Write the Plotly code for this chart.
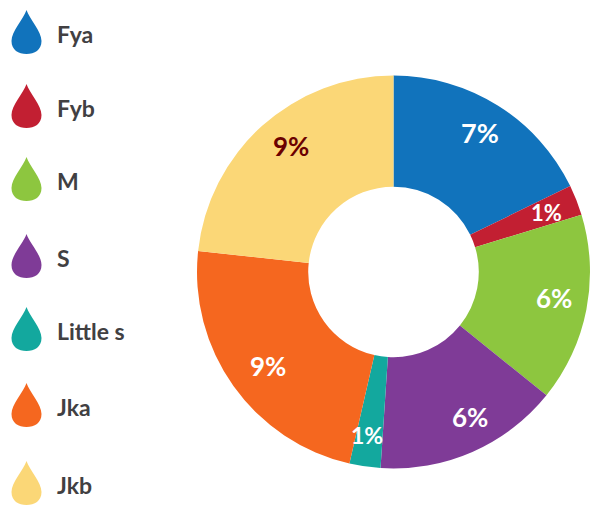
import math
import plotly.graph_objects as go

labels = ["Fya", "Fyb", "M", "S", "Little s", "Jka", "Jkb"]
values = [17.8, 2.5, 15.5, 15.25, 2.55, 23.1, 23.3]
texts = ["7%", "1%", "6%", "6%", "1%", "9%", "9%"]
colors = ["#1173BC", "#C21F32", "#8DC63F", "#7F3B97", "#13A89E", "#F5671F", "#FBD777"]
text_colors = ["#FFFFFF", "#FFFFFF", "#FFFFFF", "#FFFFFF", "#FFFFFF", "#FFFFFF", "#6B0000"]
text_sizes = [27, 22, 26, 26, 23, 26, 26]
FONT = "Lato"
W, H = 591, 507
CX, CY, R = 393.5, 272, 196.5
LABEL_R = 164
nudge_x = [-1, 0, -1, 11, -3, 8, 7]
nudge_y = [0, 0, -5, -5, 1, -1, -4]

fig = go.Figure(go.Pie(
    labels=labels, values=values, textinfo="none",
    hole=0.434, sort=False, direction="clockwise", rotation=0,
    marker=dict(colors=colors, line=dict(width=0)),
    domain=dict(x=[(CX-R)/W, (CX+R)/W], y=[1-(CY+R)/H, 1-(CY-R)/H]),
    showlegend=False,
))

# slice labels sit near a fixed radius on each slice's mid-angle
total = sum(values)
cum = 0
for v, t, c, s, nx, ny in zip(values, texts, text_colors, text_sizes, nudge_x, nudge_y):
    a = 2 * math.pi * (cum + v / 2) / total
    cum += v
    fig.add_annotation(x=CX + LABEL_R * math.sin(a), y=CY - LABEL_R * math.cos(a),
                       xshift=nx, yshift=-ny,
                       xref="x", yref="y", text=f"<b>{t}</b>", showarrow=False,
                       xanchor="center", yanchor="middle",
                       font=dict(family=FONT, size=s, color=c))

legend_y = [34, 108, 181, 258, 331, 407, 485]
shapes = []
for lab, col, y in zip(labels, colors, legend_y):
    cx = 26.5
    top = y - 24
    bottom = y + 20
    hw = 15
    mid = top + 31
    path = (f"M {cx} {top} C {cx+3} {top+9}, {cx+hw} {top+21}, {cx+hw} {mid} "
            f"C {cx+hw} {bottom-4}, {cx+8} {bottom}, {cx} {bottom} "
            f"C {cx-8} {bottom}, {cx-hw} {bottom-4}, {cx-hw} {mid} "
            f"C {cx-hw} {top+21}, {cx-3} {top+9}, {cx} {top} Z")
    shapes.append(dict(type="path", path=path, xref="x", yref="y", fillcolor=col, line=dict(width=0)))
    fig.add_annotation(x=55, y=y, xref="x", yref="y", text=f"<b>{lab}</b>", showarrow=False,
                       xanchor="left", yanchor="middle",
                       font=dict(family=FONT, size=23, color="#414042"))

fig.update_layout(
    width=W, height=H, margin=dict(l=0, r=0, t=0, b=0),
    paper_bgcolor="white", plot_bgcolor="rgba(0,0,0,0)", shapes=shapes,
    xaxis=dict(range=[0, W], visible=False, fixedrange=True),
    yaxis=dict(range=[H, 0], visible=False, fixedrange=True),
)
fig.write_html("out.html", config=dict(displayModeBar=False),
               post_script="document.body.style.margin='0';document.documentElement.style.overflow='hidden';")
